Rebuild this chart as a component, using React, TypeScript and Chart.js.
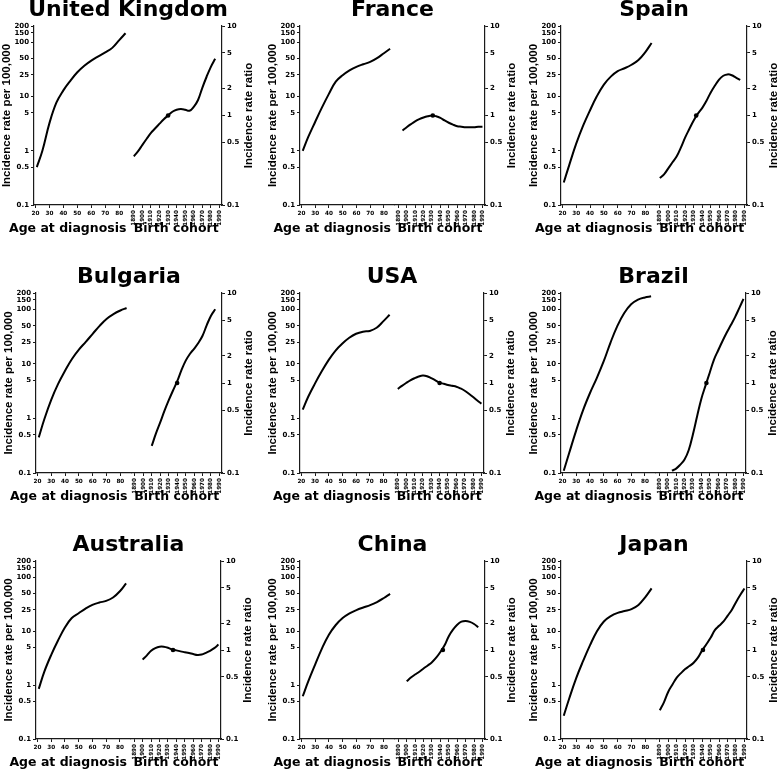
import React, { useEffect, useRef } from "react";
import { Chart, registerables } from "chart.js";

Chart.register(...registerables);

// ---------- data ----------
const AGES = [21, 25, 30, 35, 40, 45, 50, 55, 60, 65, 70, 75, 80, 84.5];
const COHORTS = [1890, 1895, 1900, 1905, 1910, 1915, 1920, 1925, 1930, 1935, 1940, 1945, 1950, 1955, 1960, 1965, 1970, 1975, 1980, 1985, 1990];

const RATE_TICKS = [0.1, 0.5, 1, 5, 10, 25, 50, 100, 150, 200];
const RATIO_TICKS = [0.1, 0.5, 1, 2, 5, 10];
const AGE_TICKS = [20, 30, 40, 50, 60, 70, 80];
const COHORT_TICKS = [1890, 1900, 1910, 1920, 1930, 1940, 1950, 1960, 1970, 1980, 1990];

const COUNTRIES = ["United Kingdom", "France", "Spain", "Bulgaria", "USA", "Brazil", "Australia", "China", "Japan"];

const ukRate = [0.5, 1.0, 3.2, 7.7, 13, 19.5, 28, 37, 46, 55, 65, 79, 110, 147];
const frRate = [1.0, 1.8, 3.4, 6.3, 11.2, 18.8, 24.7, 30.4, 35.3, 39.4, 43.5, 51, 63, 76];
const esRate = [0.26, 0.55, 1.35, 2.9, 5.6, 10.2, 16.6, 23.3, 29.4, 33.3, 38.6, 47, 66, 97];
const bgRate = [0.45, 0.97, 2.2, 4.3, 7.5, 12.3, 18.3, 25.4, 35.7, 50, 67, 82, 95.5, 106];
const usRate = [1.45, 2.5, 4.4, 7.4, 11.9, 17.6, 23.7, 30.2, 35.8, 39.1, 40.3, 46, 61, 80];
const brRate = [0.11, 0.235, 0.6, 1.41, 2.9, 5.5, 11.1, 24.7, 50, 86, 124, 151, 166, 174];
const auRate = [0.85, 1.76, 3.6, 6.7, 11.7, 17.5, 21.5, 26.2, 30.7, 33.9, 36.4, 42, 55, 77];
const cnRate = [0.62, 1.17, 2.4, 4.8, 8.6, 13, 17.5, 21.4, 24.6, 27.5, 30.4, 34.7, 41.2, 49];
const jpRate = [0.27, 0.57, 1.35, 2.8, 5.5, 10, 15.1, 19, 21.8, 23.6, 25.7, 30.6, 42.8, 62];

const ukRatio = [0.35, 0.40, 0.47, 0.55, 0.64, 0.72, 0.81, 0.91, 1.0, 1.10, 1.16, 1.18, 1.16, 1.13, 1.25, 1.49, 2.04, 2.71, 3.5, 4.3, null];
const frRatio = [null, 0.68, 0.74, 0.80, 0.86, 0.91, 0.95, 0.98, 1.0, 0.98, 0.94, 0.88, 0.83, 0.79, 0.76, 0.75, 0.74, 0.74, 0.74, 0.75, 0.75];
const esRatio = [0.20, 0.22, 0.257, 0.30, 0.35, 0.44, 0.57, 0.71, 0.88, 1.05, 1.21, 1.45, 1.80, 2.15, 2.52, 2.78, 2.88, 2.82, 2.65, 2.5, null];
const bgRatio = [null, null, null, null, 0.20, 0.275, 0.365, 0.49, 0.64, 0.82, 1.04, 1.38, 1.76, 2.10, 2.40, 2.78, 3.35, 4.4, 5.6, 6.6, null];
const usRatio = [0.86, 0.93, 1.0, 1.07, 1.13, 1.18, 1.21, 1.19, 1.13, 1.07, 1.01, 0.98, 0.95, 0.93, 0.91, 0.87, 0.82, 0.76, 0.70, 0.64, 0.59];
const brRatio = [null, null, null, 0.106, 0.112, 0.124, 0.141, 0.18, 0.27, 0.43, 0.67, 0.94, 1.31, 1.82, 2.31, 2.91, 3.61, 4.4, 5.4, 6.8, 8.6];
const auRatio = [null, null, 0.78, 0.87, 0.98, 1.05, 1.09, 1.09, 1.06, 1.01, 0.99, 0.965, 0.945, 0.925, 0.90, 0.88, 0.89, 0.93, 0.98, 1.05, 1.15];
const cnRatio = [null, null, 0.445, 0.49, 0.53, 0.57, 0.62, 0.67, 0.73, 0.82, 0.95, 1.13, 1.43, 1.69, 1.92, 2.08, 2.12, 2.07, 1.96, 1.80, null];
const jpRatio = [0.21, 0.26, 0.34, 0.41, 0.49, 0.55, 0.61, 0.66, 0.72, 0.82, 0.99, 1.16, 1.37, 1.67, 1.87, 2.08, 2.42, 2.82, 3.45, 4.15, 4.9];

const REF_COHORTS = [1930, 1931, 1933, 1940, 1940, 1946, 1936, 1943, 1941];

const RATES = [ukRate, frRate, esRate, bgRate, usRate, brRate, auRate, cnRate, jpRate];
const RATIOS = [ukRatio, frRatio, esRatio, bgRatio, usRatio, brRatio, auRatio, cnRatio, jpRatio];

// ---------- layout (chart-area boxes: left, right, top, bottom) ----------
const BOXES: number[][] = [
  [33.5, 221, 26, 205],
  [299.5, 484, 26, 205],
  [561, 747, 26, 205],
  [36, 222, 293, 473],
  [299.5, 483, 293, 473],
  [561, 746, 293, 473],
  [36, 221, 561, 739],
  [299.5, 484, 561, 739],
  [561, 747, 561, 739],
];

const LEFT_W = 34;
const RIGHT_W = 34;
const TITLE_H = 27;
const XAXIS_H = 34;
const AXIS_COLOR = "#1a1a1a";

const HEAVY = '"DejaVu Sans", sans-serif';
const ARIAL = '"Liberation Sans", Arial, sans-serif';

const axisTitlesPlugin = {
  id: "axisTitles",
  afterDraw(chart: any) {
    const area = chart.chartArea;
    const ctx = chart.ctx;
    const yr = chart.scales.yRatio;
    const xa = chart.scales.xAge;
    const xc = chart.scales.xCohort;
    ctx.save();
    ctx.fillStyle = "#000";
    // right axis title, reading bottom-to-top
    ctx.font = `bold 11.5px ${ARIAL}`;
    ctx.textAlign = "center";
    ctx.textBaseline = "middle";
    ctx.save();
    ctx.translate(yr.left + 26.5, (area.top + area.bottom) / 2);
    ctx.rotate(-Math.PI / 2);
    ctx.fillText("Incidence rate ratio", 0, 0);
    ctx.restore();
    // bottom titles
    ctx.font = `bold 12.5px ${HEAVY}`;
    ctx.textBaseline = "alphabetic";
    const baseY = area.bottom + 27;
    ctx.textAlign = "right";
    ctx.fillText("Age at diagnosis", xa.right - 4, baseY);
    ctx.textAlign = "center";
    ctx.fillText("Birth cohort", (xc.left + xc.right) / 2, baseY);
    ctx.restore();
  },
};

function PanelChart({ idx }: { idx: number }) {
  const ref = useRef<HTMLCanvasElement | null>(null);
  const [L, R, T, B] = BOXES[idx];
  const left = Math.round(L - LEFT_W);
  const top = Math.round(T - TITLE_H);
  const width = Math.round(R - L + LEFT_W + RIGHT_W);
  const height = Math.round(B - T + TITLE_H + XAXIS_H);

  useEffect(() => {
    if (!ref.current) return;
    const rate = RATES[idx];
    const ratio = RATIOS[idx];
    const tickFontY = { family: HEAVY, size: 7, weight: "bold" as const };
    const tickFontX = { family: HEAVY, size: 5.7, weight: "bold" as const };
    const gridX = { display: true, drawOnChartArea: false, drawTicks: true, tickLength: 3, color: AXIS_COLOR, lineWidth: 1 };
    const border = { display: true, color: AXIS_COLOR, width: 1.2 };

    const chart = new Chart(ref.current, {
      type: "line",
      data: {
        datasets: [
          {
            label: "age",
            xAxisID: "xAge",
            yAxisID: "yRate",
            data: AGES.map((a, i) => ({ x: a, y: rate[i] })),
            borderColor: "#000",
            borderWidth: 2,
            pointRadius: 0,
            tension: 0.4,
            fill: false,
          },
          {
            label: "cohort",
            xAxisID: "xCohort",
            yAxisID: "yRatio",
            data: COHORTS.map((c, i) => ({ x: c, y: ratio[i] })),
            borderColor: "#000",
            borderWidth: 2,
            pointRadius: 0,
            tension: 0.4,
            fill: false,
          },
          {
            label: "reference",
            xAxisID: "xCohort",
            yAxisID: "yRatio",
            data: [{ x: REF_COHORTS[idx], y: 1 }],
            showLine: false,
            pointRadius: 2.3,
            pointBackgroundColor: "#000",
            pointBorderColor: "#000",
            pointBorderWidth: 0,
          },
        ] as any,
      },
      options: {
        animation: false,
        responsive: false,
        devicePixelRatio: 1,
        layout: { padding: 0 },
        plugins: {
          legend: { display: false },
          tooltip: { enabled: false },
          title: {
            display: true,
            text: COUNTRIES[idx],
            color: "#000",
            font: { family: HEAVY, size: 22, weight: "bold", lineHeight: 1 },
            padding: { top: 0, bottom: 5 },
          },
        },
        scales: {
          xAge: {
            type: "linear",
            axis: "x",
            position: "bottom",
            stack: "bottomX",
            stackWeight: 0.513,
            min: 19,
            max: 88,
            bounds: "data",
            afterBuildTicks: (s: any) => {
              s.ticks = AGE_TICKS.map((v) => ({ value: v }));
            },
            afterFit: (s: any) => {
              s.height = XAXIS_H;
            },
            grid: gridX,
            border,
            ticks: {
              autoSkip: false,
              maxRotation: 0,
              minRotation: 0,
              padding: 2,
              color: "#000",
              font: tickFontX,
              callback: (v: any) => String(v),
            },
          },
          xCohort: {
            type: "linear",
            axis: "x",
            position: "bottom",
            stack: "bottomX",
            stackWeight: 0.487,
            min: 1886,
            max: 1993,
            bounds: "data",
            afterBuildTicks: (s: any) => {
              s.ticks = COHORT_TICKS.map((v) => ({ value: v }));
            },
            afterFit: (s: any) => {
              s.height = XAXIS_H;
            },
            grid: gridX,
            border,
            ticks: {
              autoSkip: false,
              maxRotation: 90,
              minRotation: 90,
              padding: 2,
              color: "#000",
              font: tickFontX,
              callback: (v: any) => String(v),
            },
          },
          yRate: {
            type: "logarithmic",
            position: "left",
            min: 0.1,
            max: 200,
            bounds: "data",
            afterBuildTicks: (s: any) => {
              s.ticks = RATE_TICKS.map((v) => ({ value: v }));
            },
            afterFit: (s: any) => {
              s.width = LEFT_W;
            },
            grid: { display: true, drawOnChartArea: false, drawTicks: true, tickLength: 3, color: AXIS_COLOR, lineWidth: 1 },
            border,
            ticks: {
              autoSkip: false,
              padding: 2,
              color: "#000",
              font: tickFontY,
              callback: (v: any) => String(v),
            },
            title: {
              display: true,
              text: "Incidence rate per 100,000",
              color: "#000",
              font: { family: ARIAL, size: 11.5, weight: "bold", lineHeight: 1.2 },
              padding: 0,
            },
          },
          yRatio: {
            type: "logarithmic",
            position: "right",
            min: 0.1,
            max: 10,
            bounds: "data",
            afterBuildTicks: (s: any) => {
              s.ticks = RATIO_TICKS.map((v) => ({ value: v }));
            },
            afterFit: (s: any) => {
              s.width = RIGHT_W;
            },
            grid: { display: true, drawOnChartArea: false, drawTicks: true, tickLength: 3, color: AXIS_COLOR, lineWidth: 1 },
            border,
            ticks: {
              autoSkip: false,
              padding: 2,
              color: "#000",
              font: tickFontY,
              callback: (v: any) => String(v),
            },
          },
        } as any,
      },
      plugins: [axisTitlesPlugin],
    });
    return () => chart.destroy();
  }, [idx]);

  return (
    <canvas
      ref={ref}
      width={width}
      height={height}
      style={{ position: "absolute", left, top, width, height }}
    />
  );
}

export default function App() {
  return (
    <div
      style={{
        position: "absolute",
        left: 0,
        top: 0,
        width: 778,
        height: 774,
        overflow: "hidden",
        background: "#fff",
      }}
    >
      {COUNTRIES.map((_, i) => (
        <PanelChart key={i} idx={i} />
      ))}
    </div>
  );
}
